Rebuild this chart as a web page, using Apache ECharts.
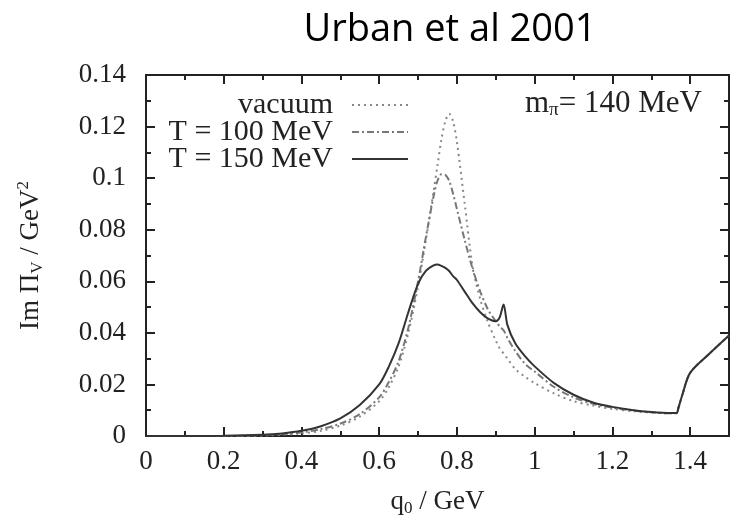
<!DOCTYPE html>
<html>
<head>
<meta charset="utf-8">
<script src="https://cdn.jsdelivr.net/npm/echarts@6/dist/echarts.min.js"></script>
<style>
  html, body { margin: 0; padding: 0; background: #fff; }
  #chart { width: 730px; height: 522px; }
</style>
</head>
<body>
<div id="chart"></div>
<script>
// q0 in GeV
var q0 = [0, 0.1, 0.2, 0.3, 0.35, 0.4, 0.45, 0.5, 0.55, 0.6, 0.625, 0.65, 0.675, 0.7, 0.72, 0.74, 0.75, 0.76, 0.77, 0.78, 0.79, 0.8, 0.82, 0.84, 0.86, 0.88, 0.9, 0.91, 0.92, 0.93, 0.95, 0.975, 1.0, 1.05, 1.1, 1.15, 1.2, 1.25, 1.3, 1.35, 1.365, 1.37, 1.38, 1.4, 1.45, 1.5];
// Im Pi_V in GeV^2
var vacuum = [0, 0, 0, 0.0002, 0.0005, 0.001, 0.002, 0.004, 0.0075, 0.0135, 0.019, 0.027, 0.04, 0.058, 0.076, 0.095, 0.105, 0.115, 0.122, 0.125, 0.122, 0.114, 0.09, 0.066, 0.053, 0.044, 0.037, 0.034, 0.032, 0.030, 0.026, 0.023, 0.0205, 0.0165, 0.0135, 0.0118, 0.0105, 0.0097, 0.0091, 0.0088, 0.0088, 0.011, 0.016, 0.0245, 0.032, 0.039];
var t100 = [0, 0, 0, 0.0003, 0.0007, 0.0014, 0.0027, 0.0048, 0.0085, 0.015, 0.021, 0.029, 0.042, 0.06, 0.077, 0.093, 0.099, 0.1015, 0.1013, 0.099, 0.094, 0.088, 0.076, 0.065, 0.056, 0.049, 0.0445, 0.0425, 0.041, 0.038, 0.033, 0.028, 0.025, 0.019, 0.015, 0.0125, 0.011, 0.0099, 0.0092, 0.0088, 0.0088, 0.011, 0.016, 0.0245, 0.032, 0.039];
var t150 = [0, 0, 0.0001, 0.0005, 0.001, 0.002, 0.0038, 0.0068, 0.012, 0.02, 0.027, 0.036, 0.048, 0.059, 0.064, 0.0662, 0.0665, 0.066, 0.0652, 0.064, 0.062, 0.0605, 0.056, 0.0515, 0.048, 0.0455, 0.0445, 0.046, 0.051, 0.043, 0.036, 0.031, 0.027, 0.0205, 0.016, 0.013, 0.0113, 0.0101, 0.0093, 0.0089, 0.0089, 0.011, 0.016, 0.0245, 0.032, 0.039];

var names = ['vacuum', 'T = 100 MeV', 'T = 150 MeV'];

function pairs(ys) {
  return q0.map(function (x, i) { return [x, ys[i]]; });
}

var serif = 'Liberation Serif';
var axisCol = '#222';

var chart = echarts.init(document.getElementById('chart'));

// frame axes: ticks pointing inward, no zero snapping
function frameAxis(extra) {
  return Object.assign({
    axisLine: { show: true, onZero: false, lineStyle: { color: axisCol, width: 2 } },
    axisTick: { show: true, inside: true, length: 9, lineStyle: { color: axisCol, width: 2 } },
    minorTick: { show: true, splitNumber: 2, length: 5, lineStyle: { color: axisCol, width: 2 } },
    splitLine: { show: false }
  }, extra);
}

function legendAt(name, top) {
  return {
    data: [name],
    right: 316,
    top: top,
    align: 'right',
    itemWidth: 56,
    itemHeight: 12,
    selectedMode: false,
    itemStyle: { color: 'transparent', borderWidth: 0 },
    textStyle: { fontFamily: serif, fontSize: 30, color: '#222', padding: [0, 14, 0, 0] }
  };
}

var subStyle = { fontFamily: serif, fontSize: 17, fontWeight: 'normal', color: '#222', verticalAlign: 'bottom', padding: [14, 0, 0, 0] };
var mainStyle = { fontFamily: serif, fontSize: 27, fontWeight: 'normal', color: '#222' };

var option = {
  animation: false,
  title: [
    {
      text: 'Urban et al 2001',
      left: 445,
      textAlign: 'center',
      top: 6,
      textStyle: { fontFamily: 'Open Sans', fontWeight: 'normal', fontSize: 38, color: '#000' }
    },
    {
      text: '{m|m}{s|π}{m|= 140 MeV}',
      left: 520,
      top: 82,
      textStyle: {
        fontWeight: 'normal',
        rich: {
          m: Object.assign({}, mainStyle, { fontSize: 31 }),
          s: Object.assign({}, subStyle, { fontSize: 19, padding: [14, 0, 0, 0] })
        }
      }
    }
  ],
  legend: [legendAt(names[0], 85), legendAt(names[1], 112), legendAt(names[2], 139)],
  grid: { left: 146, right: 1, top: 75, bottom: 85 },
  xAxis: [
    frameAxis({
      type: 'value', min: 0, max: 1.5, interval: 0.2, position: 'bottom',
      axisLabel: { fontFamily: serif, fontSize: 27, color: '#222', margin: 12, showMaxLabel: false },
      name: '{m|q}{s|0}{m| / GeV}',
      nameLocation: 'middle',
      nameGap: 50,
      nameTextStyle: { rich: { m: mainStyle, s: subStyle } }
    }),
    frameAxis({
      type: 'value', min: 0, max: 1.5, interval: 0.2, position: 'top',
      axisLabel: { show: false }
    })
  ],
  yAxis: [
    frameAxis({
      type: 'value', min: 0, max: 0.14, interval: 0.02, position: 'left',
      axisLabel: { fontFamily: serif, fontSize: 27, color: '#222', margin: 20 },
      name: '{m|Im Π}{s|V}{m| / GeV}{p|2}',
      nameLocation: 'middle',
      nameRotate: 90,
      nameGap: 100,
      nameTextStyle: {
        rich: {
          m: mainStyle,
          s: subStyle,
          p: { fontFamily: serif, fontSize: 17, color: '#222', verticalAlign: 'top', padding: [0, 0, 12, 0] }
        }
      }
    }),
    frameAxis({
      type: 'value', min: 0, max: 0.14, interval: 0.02, position: 'right',
      axisLabel: { show: false }
    })
  ],
  series: [
    {
      name: names[0], type: 'line', data: pairs(vacuum), symbol: 'none',
      smooth: 0.3,
      itemStyle: { color: '#888' },
      lineStyle: { color: '#888', width: 2, type: [2, 4] },
      z: 3
    },
    {
      name: names[1], type: 'line', data: pairs(t100), symbol: 'none',
      smooth: 0.3,
      itemStyle: { color: '#777' },
      lineStyle: { color: '#777', width: 2, type: [7, 3, 2, 3] },
      z: 4
    },
    {
      name: names[2], type: 'line', data: pairs(t150), symbol: 'none',
      smooth: 0.3,
      itemStyle: { color: '#333' },
      lineStyle: { color: '#333', width: 2 },
      z: 5
    }
  ]
};

chart.setOption(option);
</script>
</body>
</html>
